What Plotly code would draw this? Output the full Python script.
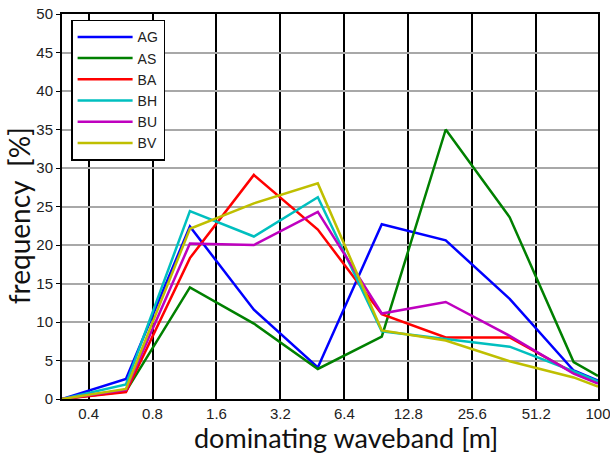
import plotly.graph_objects as go

x_vals = [0.3, 0.6, 1.2, 2.4, 4.8, 9.6, 19.2, 38.4, 76.8, 100]
AG = [0, 2.6, 22.4, 11.6, 4.1, 22.7, 20.6, 13.0, 3.7, 2.4]
AS = [0, 1.0, 14.5, 9.8, 3.9, 8.1, 35.0, 23.6, 4.8, 3.0]
BA = [0, 0.9, 18.3, 29.1, 22.0, 11.0, 8.0, 8.0, 3.4, 2.1]
BH = [0, 1.9, 24.4, 21.1, 26.2, 8.8, 7.8, 6.8, 3.6, 2.3]
BU = [0, 1.2, 20.2, 20.0, 24.3, 11.1, 12.6, 8.2, 3.3, 2.0]
BV = [0, 1.3, 22.1, 25.4, 28.0, 8.9, 7.6, 4.9, 2.8, 1.6]

series_names = ["AG", "AS", "BA", "BH", "BU", "BV"]
series_vals = [AG, AS, BA, BH, BU, BV]
colors = ["#0000FF", "#008000", "#FF0000", "#00BFBF", "#BF00BF", "#BFBF00"]

tick_vals = [0.4, 0.8, 1.6, 3.2, 6.4, 12.8, 25.6, 51.2, 100]
tick_text = ["0.4", "0.8", "1.6", "3.2", "6.4", "12.8", "25.6", "51.2", "100"]
y_ticks = [0, 5, 10, 15, 20, 25, 30, 35, 40, 45, 50]

x_title = "dominating waveband [m]"
y_title = "frequency  [%]"

fig = go.Figure()
for name, vals, c in zip(series_names, series_vals, colors):
    fig.add_trace(go.Scatter(x=x_vals, y=vals, mode="lines", name=name,
                             line=dict(color=c, width=2.5)))

title_font = dict(family="Lato, sans-serif", size=27, color="#111")

fig.update_layout(
    width=610, height=455,
    margin=dict(l=62, r=12, t=14, b=56, autoexpand=False),
    paper_bgcolor="white", plot_bgcolor="white",
    font=dict(family="Liberation Sans, Arial, sans-serif", size=15, color="#222"),
    showlegend=True,
    legend=dict(x=0.017, y=0.985, xanchor="left", yanchor="top",
                bgcolor="white", bordercolor="black", borderwidth=1.5,
                font=dict(size=14, color="#222"), tracegroupgap=0,
                itemwidth=55, entrywidth=88, entrywidthmode="pixels"),
    annotations=[
        dict(text=x_title, xref="paper", yref="paper", x=0.53, y=-0.1,
             xanchor="center", yanchor="middle", showarrow=False, font=title_font),
        dict(text=y_title, xref="paper", yref="paper", x=-0.08, y=0.475,
             xanchor="center", yanchor="middle", showarrow=False, textangle=-90,
             font=dict(family="Lato, sans-serif", size=28, color="#111")),
    ],
)
fig.update_xaxes(
    type="log", range=[-0.5229, 2.0], automargin=False,
    tickmode="array", tickvals=tick_vals, ticktext=tick_text,
    ticklabeloverflow="allow",
    showgrid=True, gridcolor="black", gridwidth=2,
    showline=True, linecolor="black", linewidth=2, mirror=True,
    ticks="", zeroline=False,
    tickfont=dict(size=15),
)
fig.update_yaxes(
    range=[0, 50], tickmode="array", tickvals=y_ticks, automargin=False,
    showgrid=True, gridcolor="#A8A8A8", gridwidth=1.5,
    showline=True, linecolor="black", linewidth=2, mirror=True,
    ticks="outside", ticklen=4, tickcolor="black", zeroline=False,
    tickfont=dict(size=15),
)

fig.write_html("out.html", config={"displayModeBar": False},
               post_script="document.body.style.margin='0';document.body.style.overflow='hidden';")
